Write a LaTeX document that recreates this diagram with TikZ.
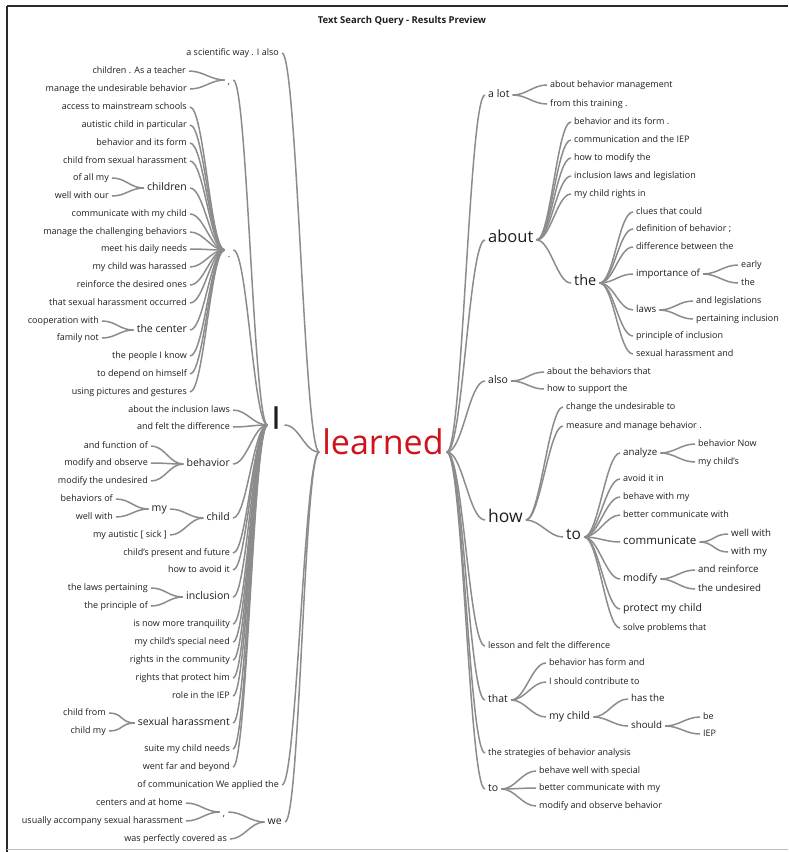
\documentclass[tikz,border=0pt]{standalone}
\usepackage{fontspec}
\setmainfont{Open Sans}
\newfontfamily\thickIfont[FakeBold=1.2]{Open Sans}
\definecolor{txt}{HTML}{1E1E1E}
\definecolor{lineg}{HTML}{8C8C8C}
\definecolor{redw}{HTML}{D0121B}
\definecolor{frame}{HTML}{2A2A2A}
\newcommand\wtL[3][14pt]{\draw[conn] (#2.west) to[out=180,in=0,distance=#1] (#3.east);}
\newcommand\wtR[3][14pt]{\draw[conn] (#2.east) to[out=0,in=180,distance=#1] (#3.west);}
\begin{document}
\begin{tikzpicture}[x={(1pt,0pt)},y={(0pt,-1pt)},
  w/.style={inner xsep=3pt, inner ysep=0pt, text height=0.72em, text depth=0.2em, text=txt},
  s0/.style={w, font=\fontsize{9}{10}\selectfont},
  s05/.style={w, font=\fontsize{9.7}{10}\selectfont},
  s1/.style={w, font=\fontsize{10.5}{11}\selectfont},
  s15/.style={w, font=\fontsize{11.5}{12}\selectfont},
  s2/.style={w, font=\fontsize{14.5}{15}\selectfont},
  s25/.style={w, font=\fontsize{15.5}{16}\selectfont},
  s3/.style={w, font=\fontsize{16.5}{17}\selectfont},
  s35/.style={w, font=\fontsize{17.5}{18}\selectfont},
  L/.style={anchor=east},
  R/.style={anchor=west},
  conn/.style={draw=lineg, line width=1.5pt}]
\useasboundingbox (0,0) rectangle (788,852);
\fill[white] (0,0) rectangle (788,852);
% frame
\draw[frame, line width=1.3pt] (7,6) -- (788,6);
\draw[frame, line width=1.3pt] (7,6) -- (7,852);
\draw[black!25, line width=1pt] (7,849) -- (788,849);
% title
\node[font=\bfseries\fontsize{9.5}{10}\selectfont, text=txt] (title) at (402,21) {Text Search Query - Results Preview};

% root
\node[w, font=\fontsize{34}{36}\selectfont, text=redw] (learned) at (383,452) {learned};
\node[w, font=\thickIfont\fontsize{31}{32}\selectfont, text height=0.72em, text depth=0em, inner xsep=4pt] (I) at (276,425) {I};

% ---------- LEFT ----------
\node[s0,L] (sci) at (282,53) {a scientific way . I also};
\node[s0] (cm1) at (229,80) {\raisebox{-2pt}{,}};
\node[s0,L] (c1a) at (189,71) {children . As a teacher};
\node[s0,L] (c1b) at (190,89) {manage the undesirable behavior};
\node[s0] (dot) at (229,250) {\raisebox{-5pt}{.}};
\node[s0,L] (d1) at (190,107) {access to mainstream schools};
\node[s0,L] (d2) at (190,125) {autistic child in particular};
\node[s0,L] (d3) at (190,143) {behavior and its form};
\node[s0,L] (d4) at (190,161) {child from sexual harassment};
\node[s1,L] (d5) at (190,188) {children};
\node[s0,L] (d5a) at (112,178) {of all my};
\node[s0,L] (d5b) at (112,196) {well with our};
\node[s0,L] (d6) at (190,214) {communicate with my child};
\node[s0,L] (d7) at (190,232) {manage the challenging behaviors};
\node[s0,L] (d8) at (190,249) {meet his daily needs};
\node[s0,L] (d9) at (190,267) {my child was harassed};
\node[s0,L] (d10) at (190,285) {reinforce the desired ones};
\node[s0,L] (d11) at (190,303) {that sexual harassment occurred};
\node[s1,L] (d12) at (190,330) {the center};
\node[s0,L] (d12a) at (102,321) {cooperation with};
\node[s0,L] (d12b) at (102,338) {family not};
\node[s0,L] (d13) at (190,356) {the people I know};
\node[s0,L] (d14) at (190,374) {to depend on himself};
\node[s0,L] (d15) at (190,392) {using pictures and gestures};

\node[s0,L] (i1) at (233,410) {about the inclusion laws};
\node[s0,L] (i2) at (233,427) {and felt the difference};
\node[s1,L] (i3) at (233,464) {behavior};
\node[s0,L] (i3a) at (151,446) {and function of};
\node[s0,L] (i3b) at (151,463) {modify and observe};
\node[s0,L] (i3c) at (151,481) {modify the undesired};
\node[s1,L] (i4) at (233,518) {child};
\node[s1,L] (i4a) at (170,509) {my};
\node[s0,L] (i4a1) at (116,499) {behaviors of};
\node[s0,L] (i4a2) at (116,517) {well with};
\node[s0,L] (i4b) at (170,535) {my autistic [ sick ]};
\node[s0,L] (i5) at (233,553) {child's present and future};
\node[s0,L] (i6) at (233,570) {how to avoid it};
\node[s1,L] (i7) at (233,597) {inclusion};
\node[s0,L] (i7a) at (151,588) {the laws pertaining};
\node[s0,L] (i7b) at (151,606) {the principle of};
\node[s0,L] (i8) at (233,624) {is now more tranquility};
\node[s0,L] (i9) at (233,642) {my child's special need};
\node[s0,L] (i10) at (233,660) {rights in the community};
\node[s0,L] (i11) at (233,678) {rights that protect him};
\node[s0,L] (i12) at (233,696) {role in the IEP};
\node[s1,L] (i13) at (233,723) {sexual harassment};
\node[s0,L] (i13a) at (109,713) {child from};
\node[s0,L] (i13b) at (109,731) {child my};
\node[s0,L] (i14) at (233,749) {suite my child needs};
\node[s0,L] (i15) at (233,767) {went far and beyond};

\node[s0,L] (ofc) at (282,785) {of communication We applied the};
\node[s1,L] (we) at (285,822) {we};
\node[s0] (cm2) at (224,812) {\raisebox{-2pt}{,}};
\node[s0,L] (cm2a) at (186,803) {centers and at home};
\node[s0,L] (cm2b) at (186,821) {usually accompany sexual harassment};
\node[s0,L] (we2) at (230,839) {was perfectly covered as};

% ---------- RIGHT ----------
\node[s1,R] (alot) at (485,95) {a lot};
\node[s0,R] (al1) at (547,85) {about behavior management};
\node[s0,R] (al2) at (547,104) {from this training .};
\node[s3,R] (about) at (485,240) {about};
\node[s0,R] (ab1) at (571,122) {behavior and its form .};
\node[s0,R] (ab2) at (571,140) {communication and the IEP};
\node[s0,R] (ab3) at (571,158) {how to modify the};
\node[s0,R] (ab4) at (571,176) {inclusion laws and legislation};
\node[s0,R] (ab5) at (571,194) {my child rights in};
\node[s2,R] (the) at (571,283) {the};
\node[s0,R] (th1) at (633,212) {clues that could};
\node[s0,R] (th2) at (633,229) {definition of behavior ;};
\node[s0,R] (th3) at (633,247) {difference between the};
\node[s05,R] (th4) at (633,274) {importance of};
\node[s0,R] (th4a) at (738,265) {early};
\node[s0,R] (th4b) at (738,283) {the};
\node[s05,R] (th5) at (633,310) {laws};
\node[s0,R] (th5a) at (693,301) {and legislations};
\node[s0,R] (th5b) at (693,319) {pertaining inclusion};
\node[s0,R] (th6) at (633,336) {principle of inclusion};
\node[s0,R] (th7) at (633,354) {sexual harassment and};
\node[s1,R] (also) at (485,381) {also};
\node[s0,R] (als1) at (544,372) {about the behaviors that};
\node[s0,R] (als2) at (544,389) {how to support the};
\node[s35,R] (how) at (485,520) {how};
\node[s0,R] (hw1) at (563,407) {change the undesirable to};
\node[s0,R] (hw2) at (563,426) {measure and manage behavior .};
\node[s25,R] (to) at (563,537) {to};
\node[s05,R] (to1) at (620,453) {analyze};
\node[s0,R] (to1a) at (695,444) {behavior Now};
\node[s0,R] (to1b) at (695,462) {my child's};
\node[s0,R] (to2) at (620,479) {avoid it in};
\node[s0,R] (to3) at (620,497) {behave with my};
\node[s0,R] (to4) at (620,515) {better communicate with};
\node[s15,R] (to5) at (620,542) {communicate};
\node[s05,R] (to5a) at (728,534) {well with};
\node[s05,R] (to5b) at (728,552) {with my};
\node[s1,R] (to6) at (620,579) {modify};
\node[s05,R] (to6a) at (695,570) {and reinforce};
\node[s05,R] (to6b) at (695,589) {the undesired};
\node[s1,R] (to7) at (620,609) {protect my child};
\node[s0,R] (to8) at (620,628) {solve problems that};
\node[s0,R] (lesson) at (485,646) {lesson and felt the difference};
\node[s1,R] (that) at (485,700) {that};
\node[s0,R] (tt1) at (546,663) {behavior has form and};
\node[s0,R] (tt2) at (546,682) {I should contribute to};
\node[s1,R] (tt3) at (546,717) {my child};
\node[s05,R] (tt3a) at (628,699) {has the};
\node[s05,R] (tt3b) at (628,726) {should};
\node[s0,R] (tt3b1) at (700,717) {be};
\node[s0,R] (tt3b2) at (700,734) {IEP};
\node[s0,R] (strat) at (485,753) {the strategies of behavior analysis};
\node[s1,R] (tob) at (485,789) {to};
\node[s0,R] (tb1) at (536,771) {behave well with special};
\node[s0,R] (tb2) at (536,788) {better communicate with my};
\node[s0,R] (tb3) at (536,806) {modify and observe behavior};

% ---------- CONNECTORS LEFT ----------
\wtL[15pt]{learned}{sci}
\wtL[15pt]{learned}{I}
\wtL[15pt]{learned}{ofc}
\wtL[15pt]{learned}{we}
\foreach \n in {cm1,dot,i1,i2,i3,i4,i5,i6,i7,i8,i9,i10,i11,i12,i13,i14,i15}{\wtL{I}{\n}}
\wtL{cm1}{c1a}\wtL{cm1}{c1b}
\foreach \n in {d1,d2,d3,d4,d5,d6,d7,d8,d9,d10,d11,d12,d13,d14,d15}{\wtL{dot}{\n}}
\wtL{d5}{d5a}\wtL{d5}{d5b}
\wtL{d12}{d12a}\wtL{d12}{d12b}
\wtL{i3}{i3a}\wtL{i3}{i3b}\wtL{i3}{i3c}
\wtL{i4}{i4a}\wtL{i4}{i4b}
\wtL{i4a}{i4a1}\wtL{i4a}{i4a2}
\wtL{i7}{i7a}\wtL{i7}{i7b}
\wtL{i13}{i13a}\wtL{i13}{i13b}
\wtL{we}{cm2}\wtL{we}{we2}
\wtL{cm2}{cm2a}\wtL{cm2}{cm2b}

% ---------- CONNECTORS RIGHT ----------
\foreach \n in {alot,about,also,how,lesson,that,strat,tob}{\wtR[16pt]{learned}{\n}}
\wtR{alot}{al1}\wtR{alot}{al2}
\foreach \n in {ab1,ab2,ab3,ab4,ab5,the}{\wtR{about}{\n}}
\foreach \n in {th1,th2,th3,th4,th5,th6,th7}{\wtR{the}{\n}}
\wtR{th4}{th4a}\wtR{th4}{th4b}
\wtR{th5}{th5a}\wtR{th5}{th5b}
\wtR{also}{als1}\wtR{also}{als2}
\wtR{how}{hw1}\wtR{how}{hw2}\wtR{how}{to}
\foreach \n in {to1,to2,to3,to4,to5,to6,to7,to8}{\wtR{to}{\n}}
\wtR{to1}{to1a}\wtR{to1}{to1b}
\wtR{to5}{to5a}\wtR{to5}{to5b}
\wtR{to6}{to6a}\wtR{to6}{to6b}
\wtR{that}{tt1}\wtR{that}{tt2}\wtR{that}{tt3}
\wtR{tt3}{tt3a}\wtR{tt3}{tt3b}
\wtR{tt3b}{tt3b1}\wtR{tt3b}{tt3b2}
\wtR{tob}{tb1}\wtR{tob}{tb2}\wtR{tob}{tb3}
\end{tikzpicture}
\end{document}
